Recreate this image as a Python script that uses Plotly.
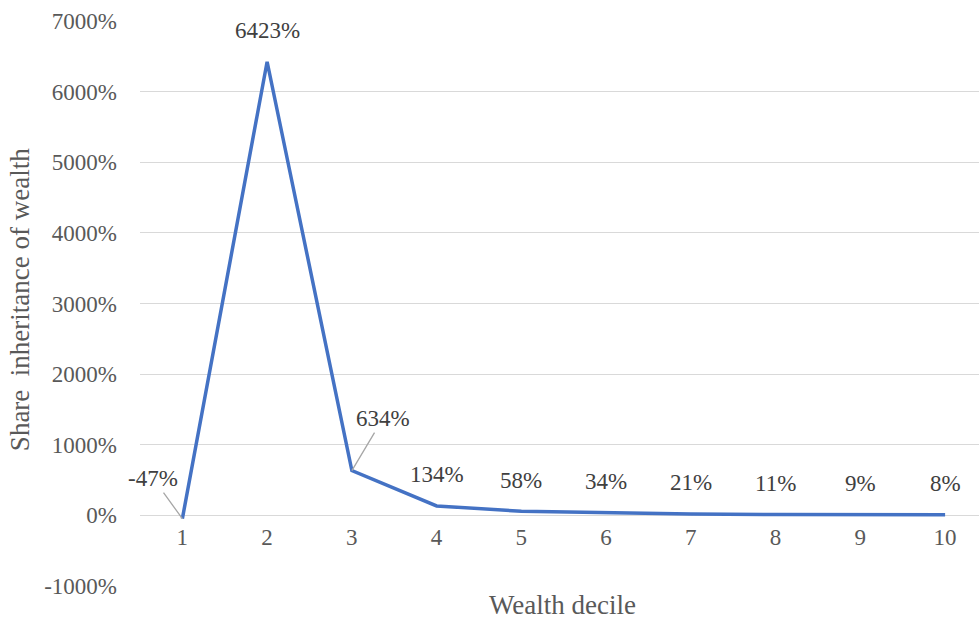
import plotly.graph_objects as go

deciles = [1, 2, 3, 4, 5, 6, 7, 8, 9, 10]
share_pct = [-47, 6423, 634, 134, 58, 34, 21, 11, 9, 8]
labels = [f"{v}%" for v in share_pct]
y_ticks = [-1000, 0, 1000, 2000, 3000, 4000, 5000, 6000, 7000]

FONT = "Liberation Serif"
TXT = "#595959"

fig = go.Figure()
fig.add_trace(go.Scatter(
    x=deciles, y=share_pct, mode="lines",
    line=dict(color="#4472C4", width=3.5),
    hoverinfo="skip", showlegend=False,
))

offsets = {0: (-29, -40, True), 2: (31, -52, True)}
for i, (x, y, t) in enumerate(zip(deciles, share_pct, labels)):
    ax, ay, arrow = offsets.get(i, (0, -31, False))
    fig.add_annotation(
        x=x, y=y, text=t, xref="x", yref="y",
        showarrow=True, arrowhead=0, arrowwidth=1.3,
        arrowcolor="#A6A6A6" if arrow else "rgba(0,0,0,0)",
        ax=ax, ay=ay, standoff=0,
        font=dict(family=FONT, size=23, color="#404040"),
    )

fig.add_annotation(
    x=0.504, y=-0.0336, xref="paper", yref="paper", text="Wealth decile",
    showarrow=False, xanchor="center", yanchor="middle",
    font=dict(family=FONT, size=27, color=TXT),
)
fig.add_annotation(
    x=-0.143, y=0.506, xref="paper", yref="paper",
    text="Share\u00a0\u00a0inheritance of wealth", textangle=-90,
    showarrow=False, xanchor="center", yanchor="middle",
    font=dict(family=FONT, size=27, color=TXT),
)

fig.update_layout(
    width=979, height=621,
    margin=dict(l=140, r=0, t=21, b=35),
    paper_bgcolor="white", plot_bgcolor="white",
    font=dict(family=FONT, size=23, color=TXT),
    xaxis=dict(
        range=[0.5, 10.4], tickmode="array", tickvals=deciles,
        ticktext=[str(d) for d in deciles],
        showgrid=False, zeroline=False, showline=False, ticks="",
        anchor="free", position=0.1257, ticklabelstandoff=6,
        fixedrange=True,
    ),
    yaxis=dict(
        range=[-1000, 7000], tickmode="array", tickvals=y_ticks,
        ticktext=[f"{v}%" for v in y_ticks],
        showgrid=True, gridcolor="#D9D9D9", gridwidth=1.3,
        zeroline=False, showline=False, ticks="",
        ticklabelstandoff=22,
    ),
)

fig.write_html("out.html")
